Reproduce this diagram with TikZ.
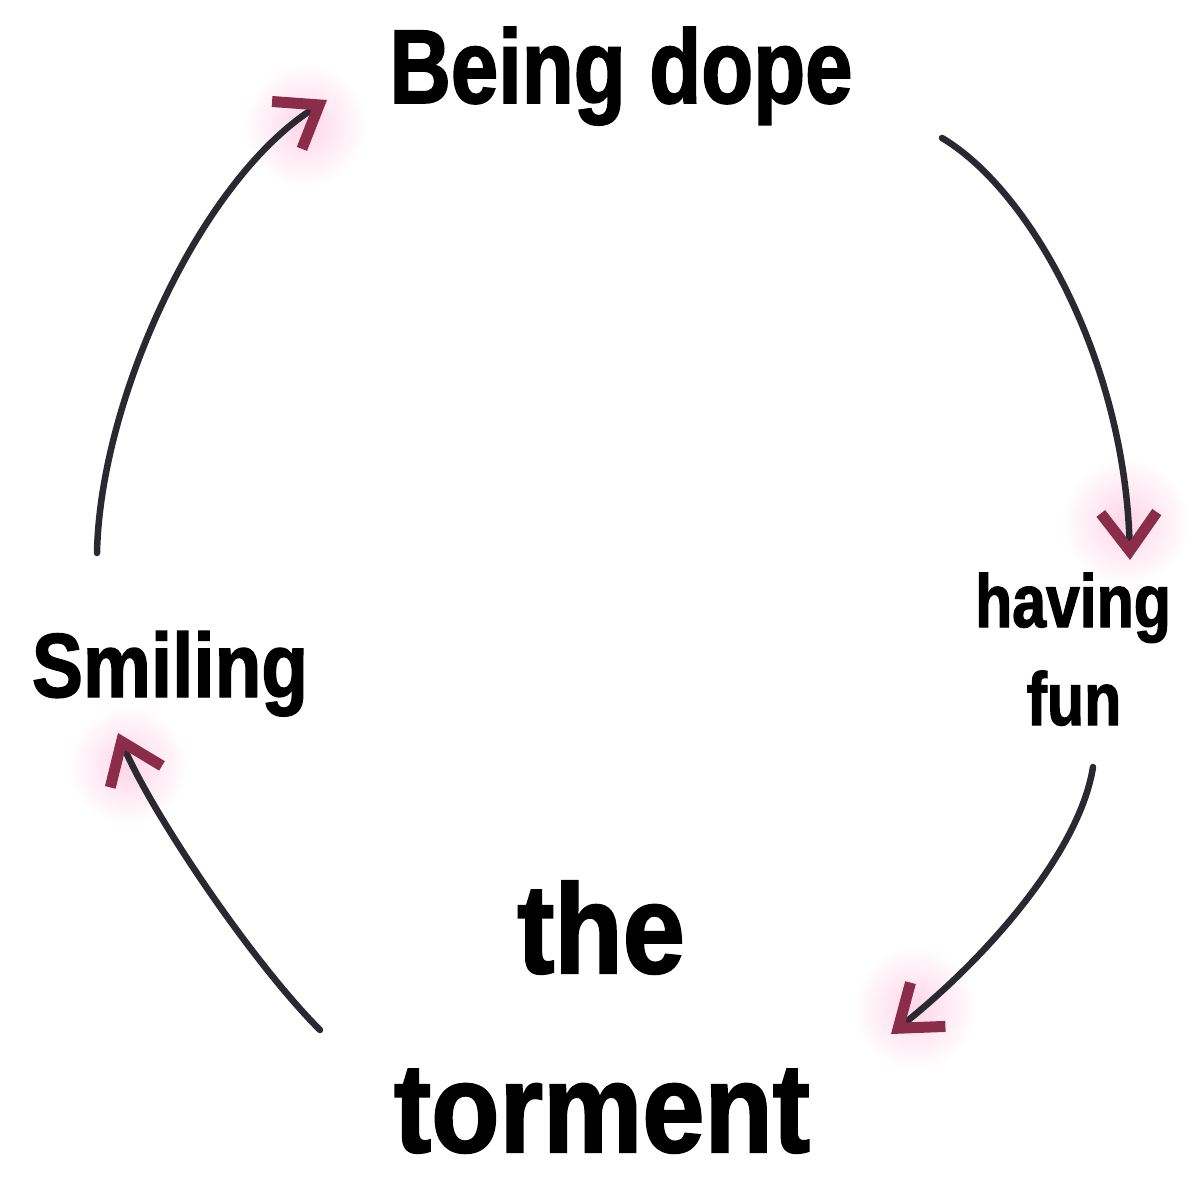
\documentclass[tikz,border=0pt]{standalone}
\usepackage{fontspec}
\newfontfamily\fa[FakeStretch=0.81,FakeBold=1.6]{Liberation Sans}
\newfontfamily\fb[FakeStretch=0.88,FakeBold=1.6]{Liberation Sans}
\newfontfamily\fc[FakeStretch=0.84,FakeBold=1.6]{Liberation Sans}
\usetikzlibrary{arrows.meta}
\definecolor{arcline}{RGB}{42,40,48}
\definecolor{tipred}{RGB}{138,44,74}
\definecolor{glowpink}{RGB}{255,212,230}
\tikzset{
  arc/.style={draw=arcline, line width=6.5pt, line cap=round,
    -{Straight Barb[length=38pt,width=56pt,line width=11pt,color=tipred]}},
  glow/.style={inner color=glowpink, outer color=white},
  lbl/.style={anchor=base, inner sep=0pt, text=black}
}
\begin{document}
\begin{tikzpicture}[x=1pt,y=-1pt]
\useasboundingbox (0,0) rectangle (1200,1183);
\fill[white] (0,0) rectangle (1200,1183);
% glows behind arrowheads
\shade[glow] (305,125) circle (62);
\shade[glow] (1126,522) circle (64);
\shade[glow] (915,1008) circle (62);
\shade[glow] (128,765) circle (60);
% labels
\node[lbl, font=\fa\bfseries\fontsize{105}{105}\selectfont] (dope) at (621,103) {Being dope};
\node[lbl, font=\fa\bfseries\fontsize{75}{75}\selectfont] (having) at (1073,627) {having};
\node[lbl, font=\fa\bfseries\fontsize{75}{75}\selectfont] (fun) at (1074,725) {fun};
\node[lbl, font=\fc\bfseries\fontsize{91}{91}\selectfont] (smiling) at (170,697) {Smiling};
\node[lbl, font=\fb\bfseries\fontsize{127}{127}\selectfont] (the) at (601,973) {the};
\node[lbl, font=\fb\bfseries\fontsize{127}{127}\selectfont] (torment) at (602,1152) {torment};
% arc end points
\coordinate (a1s) at (97,553);   \coordinate (a1e) at (327,100);
\coordinate (a2s) at (942,138);  \coordinate (a2e) at (1130,560);
\coordinate (a3s) at (1093,767); \coordinate (a3e) at (891,1034);
\coordinate (a4s) at (320,1030); \coordinate (a4e) at (118,733);
% arcs
\draw[arc] (a1s) .. controls (100,400) and (200,180) .. (a1e);
\draw[arc] (a2s) .. controls (1030,190) and (1125,360) .. (a2e);
\draw[arc] (a3s) .. controls (1080,850) and (990,955) .. (a3e);
\draw[arc] (a4s) .. controls (250,960) and (150,810) .. (a4e);
\end{tikzpicture}
\end{document}
